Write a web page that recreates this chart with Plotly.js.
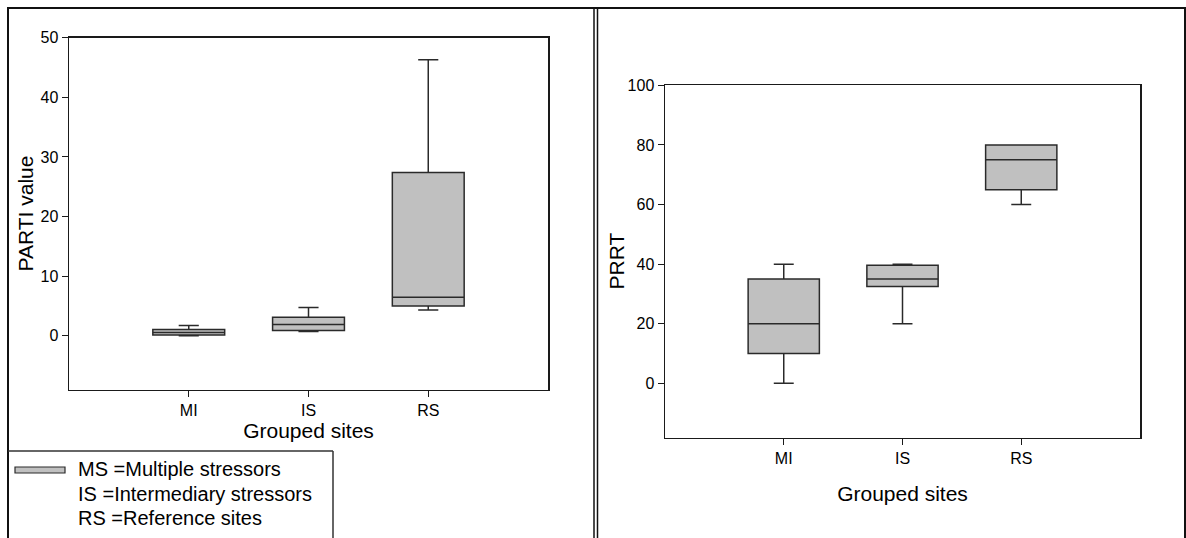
<!DOCTYPE html>
<html>
<head>
<meta charset="utf-8">
<script src="https://cdn.plot.ly/plotly-3.0.1.min.js"></script>
<style>html,body{margin:0;padding:0;background:#fff;}#chart{width:1186px;height:538px;}</style>
</head>
<body>
<div id="chart"></div>
<script>
// ---- data ----
var categories = ['MI', 'IS', 'RS'];

var partiLower  = [0.0, 0.72, 4.35];
var partiQ1     = [0.15, 0.89, 5.02];
var partiMedian = [0.55, 1.9, 6.48];
var partiQ3     = [1.06, 3.12, 27.4];
var partiUpper  = [1.73, 4.75, 46.3];

var prrtLower  = [0, 20, 60];
var prrtQ1     = [10, 32.5, 65];
var prrtMedian = [20, 35, 75];
var prrtQ3     = [35, 39.6, 80];
var prrtUpper  = [40, 40, 80];

var partiTicks = [0, 10, 20, 30, 40, 50];
var prrtTicks  = [0, 20, 40, 60, 80, 100];

var xTitle = 'Grouped sites';
var yTitleLeft = 'PARTI value';
var yTitleRight = 'PRRT';
var legendLines = ['MS =Multiple stressors', 'IS =Intermediary stressors', 'RS =Reference sites'];

// ---- layout helpers (pixel -> paper) ----
var W = 1186, H = 538;
function X(px) { return px / W; }
function Y(py) { return 1 - py / H; }

var FONT = 'Liberation Sans, Arial, Helvetica, sans-serif';
var boxStyle = {
  type: 'box',
  fillcolor: '#c0c0c0',
  line: {color: '#2a2a2a', width: 1.5},
  width: 0.6,
  whiskerwidth: 0.28,
  boxpoints: false,
  showlegend: false,
  hoverinfo: 'skip'
};

var trace1 = Object.assign({}, boxStyle, {
  x: categories, q1: partiQ1, median: partiMedian, q3: partiQ3,
  lowerfence: partiLower, upperfence: partiUpper,
  xaxis: 'x', yaxis: 'y'
});
var trace2 = Object.assign({}, boxStyle, {
  x: categories, q1: prrtQ1, median: prrtMedian, q3: prrtQ3,
  lowerfence: prrtLower, upperfence: prrtUpper,
  xaxis: 'x2', yaxis: 'y2'
});

function xAxis(domain, anchor, standoff) {
  return {
    domain: domain, anchor: anchor,
    type: 'category', categoryorder: 'array', categoryarray: categories,
    range: [-1, 3],
    showline: true, mirror: true, linecolor: '#1a1a1a', linewidth: 1.5,
    ticks: 'outside', ticklen: 6, tickcolor: '#1a1a1a', tickwidth: 1,
    showgrid: false, zeroline: false,
    tickfont: {family: FONT, size: 16, color: '#000'},
    title: {text: xTitle, font: {family: FONT, size: 21, color: '#000'}, standoff: standoff},
    automargin: false, fixedrange: true
  };
}
function yAxis(domain, anchor, range, tickvals) {
  return {
    domain: domain, anchor: anchor, range: range,
    tickmode: 'array', tickvals: tickvals,
    showline: true, mirror: true, linecolor: '#1a1a1a', linewidth: 1.5,
    ticks: 'outside', ticklen: 6, tickcolor: '#1a1a1a', tickwidth: 1,
    showgrid: false, zeroline: false,
    tickfont: {family: FONT, size: 16, color: '#000'},
    automargin: false, fixedrange: true
  };
}

var frameColor = '#111';
var shapes = [
  // outer frames
  {type: 'line', xref: 'paper', yref: 'paper', x0: X(7), x1: X(1186), y0: Y(8), y1: Y(8), line: {color: frameColor, width: 2}},
  {type: 'line', xref: 'paper', yref: 'paper', x0: X(8), x1: X(8), y0: Y(8), y1: Y(538), line: {color: frameColor, width: 2}},
  {type: 'line', xref: 'paper', yref: 'paper', x0: X(594), x1: X(594), y0: Y(8), y1: Y(538), line: {color: frameColor, width: 1.5}},
  {type: 'line', xref: 'paper', yref: 'paper', x0: X(597.5), x1: X(597.5), y0: Y(8), y1: Y(538), line: {color: frameColor, width: 1.5}},
  {type: 'line', xref: 'paper', yref: 'paper', x0: X(1185), x1: X(1185), y0: Y(8), y1: Y(538), line: {color: frameColor, width: 2}},
  // legend box
  {type: 'line', xref: 'paper', yref: 'paper', x0: X(8), x1: X(333), y0: Y(451), y1: Y(451), line: {color: '#333', width: 1.5}},
  {type: 'line', xref: 'paper', yref: 'paper', x0: X(333), x1: X(333), y0: Y(451), y1: Y(538), line: {color: '#333', width: 1.5}},
  // legend swatch
  {type: 'rect', xref: 'paper', yref: 'paper', x0: X(15), x1: X(65), y0: Y(467), y1: Y(473), fillcolor: '#c0c0c0', line: {color: '#2a2a2a', width: 1.2}}
];

var annotations = legendLines.map(function (t, i) {
  return {
    xref: 'paper', yref: 'paper', x: X(76), y: Y(469 + i * 24.5),
    xanchor: 'left', yanchor: 'middle', showarrow: false, text: t,
    font: {family: FONT, size: 20, color: '#000'}
  };
});
annotations.push({
  xref: 'paper', yref: 'paper', x: X(25), y: Y(213.5), textangle: -90,
  xanchor: 'center', yanchor: 'middle', showarrow: false, text: yTitleLeft,
  font: {family: FONT, size: 21, color: '#000'}
});
annotations.push({
  xref: 'paper', yref: 'paper', x: X(616), y: Y(261.5), textangle: -90,
  xanchor: 'center', yanchor: 'middle', showarrow: false, text: yTitleRight,
  font: {family: FONT, size: 21, color: '#000'}
});

var layout = {
  width: W, height: H,
  margin: {l: 0, r: 0, t: 0, b: 0},
  paper_bgcolor: '#fff', plot_bgcolor: '#fff',
  showlegend: false,
  xaxis: xAxis([X(69), X(548)], 'y', 4),
  yaxis: yAxis([Y(389.5), Y(37.7)], 'x', [-9, 50], partiTicks),
  xaxis2: xAxis([X(665), X(1140)], 'y2', 20),
  yaxis2: yAxis([Y(437.5), Y(85.4)], 'x2', [-18.2, 100], prrtTicks),
  shapes: shapes,
  annotations: annotations
};

Plotly.newPlot('chart', [trace1, trace2], layout, {displayModeBar: false, staticPlot: true});
</script>
</body>
</html>
